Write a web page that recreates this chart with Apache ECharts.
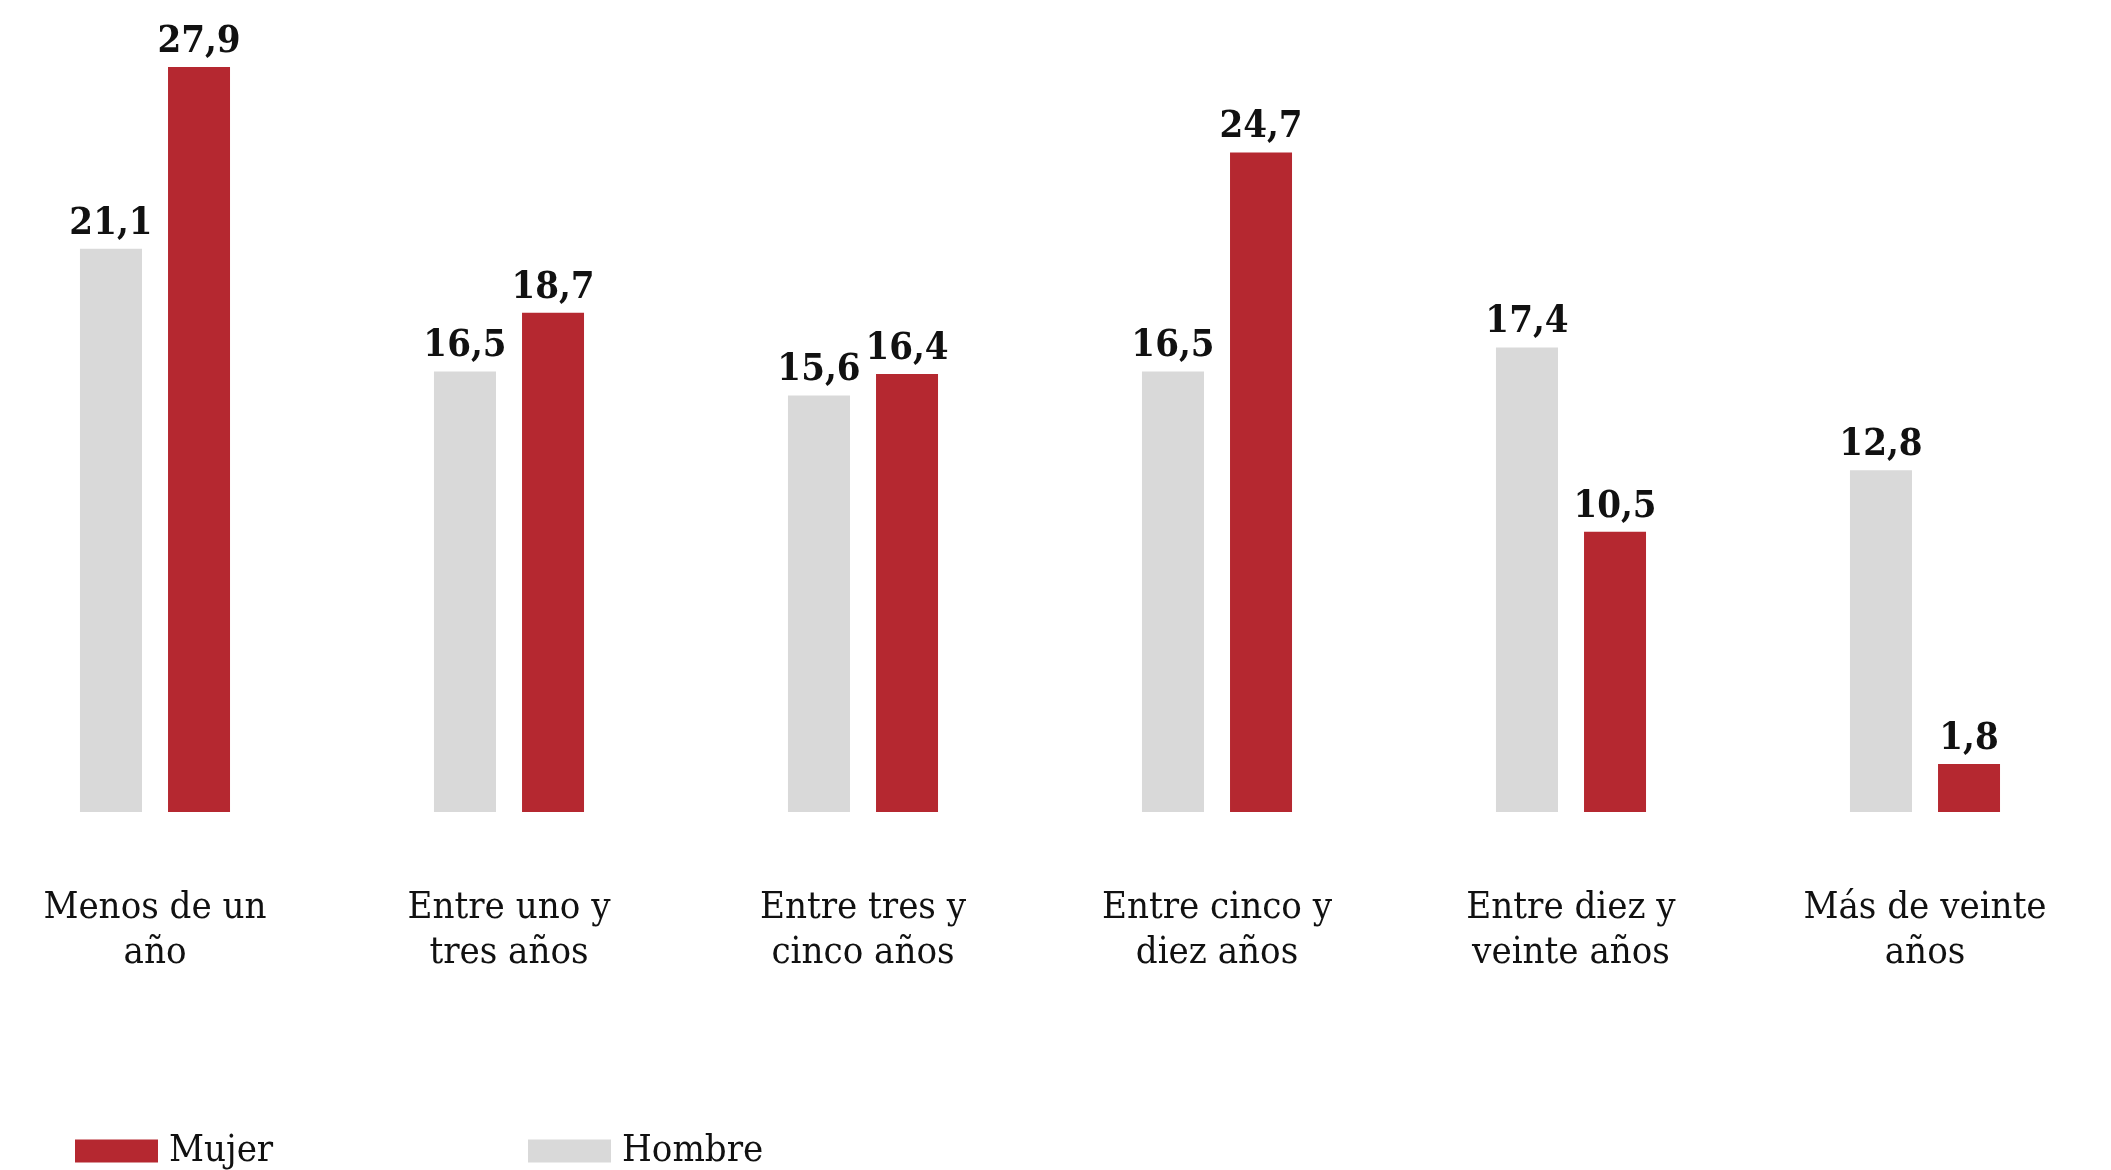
<!DOCTYPE html>
<html>
<head>
<meta charset="utf-8">
<script src="https://cdn.jsdelivr.net/npm/echarts@6/dist/echarts.min.js"></script>
<style>html,body{margin:0;padding:0;background:#fff;}#c{width:2111px;height:1170px;}</style>
</head>
<body>
<div id="c"></div>
<script>
const categories = ['Menos de un\naño', 'Entre uno y\ntres años', 'Entre tres y\ncinco años', 'Entre cinco y\ndiez años', 'Entre diez y\nveinte años', 'Más de veinte\naños'];
const hombre = [21.1, 16.5, 15.6, 16.5, 17.4, 12.8];
const mujer = [27.9, 18.7, 16.4, 24.7, 10.5, 1.8];
const seriesNames = ['Hombre', 'Mujer'];

const FONT = '"DejaVu Serif Condensed", "DejaVu Serif", serif';
const fmt = p => String(p.value).replace('.', ',');

const chart = echarts.init(document.getElementById('c'));
chart.setOption({
  animation: false,
  backgroundColor: '#fff',
  grid: { left: 155, right: 186, top: 11, height: 801 },
  xAxis: {
    type: 'category',
    data: categories,
    boundaryGap: false,
    axisLine: { show: false },
    axisTick: { show: false },
    axisLabel: { margin: 74, fontFamily: FONT, fontSize: 38, lineHeight: 45, color: '#111', interval: 0 }
  },
  yAxis: { type: 'value', min: 0, max: 30, show: false, splitLine: { show: false } },
  legend: [
    { left: 70, top: 1125, itemWidth: 83, itemHeight: 23, data: ['Mujer'], icon: 'rect',
      textStyle: { fontFamily: FONT, fontSize: 38, lineHeight: 42, color: '#111', padding: [0, 0, 0, 6] } },
    { left: 523, top: 1125, itemWidth: 83, itemHeight: 23, data: ['Hombre'], icon: 'rect',
      textStyle: { fontFamily: FONT, fontSize: 38, lineHeight: 42, color: '#111', padding: [0, 0, 0, 6] } }
  ],
  series: [
    { name: seriesNames[0], type: 'bar', data: hombre, barWidth: 62, barGap: '42%',
      itemStyle: { color: '#D9D9D9' },
      label: { show: true, position: 'top', distance: 6, formatter: fmt, fontFamily: FONT, fontWeight: 'bold', fontSize: 38, color: '#111' } },
    { name: seriesNames[1], type: 'bar', data: mujer, barWidth: 62, barGap: '42%',
      itemStyle: { color: '#B52830' },
      label: { show: true, position: 'top', distance: 6, formatter: fmt, fontFamily: FONT, fontWeight: 'bold', fontSize: 38, color: '#111' } }
  ]
});
</script>
</body>
</html>
